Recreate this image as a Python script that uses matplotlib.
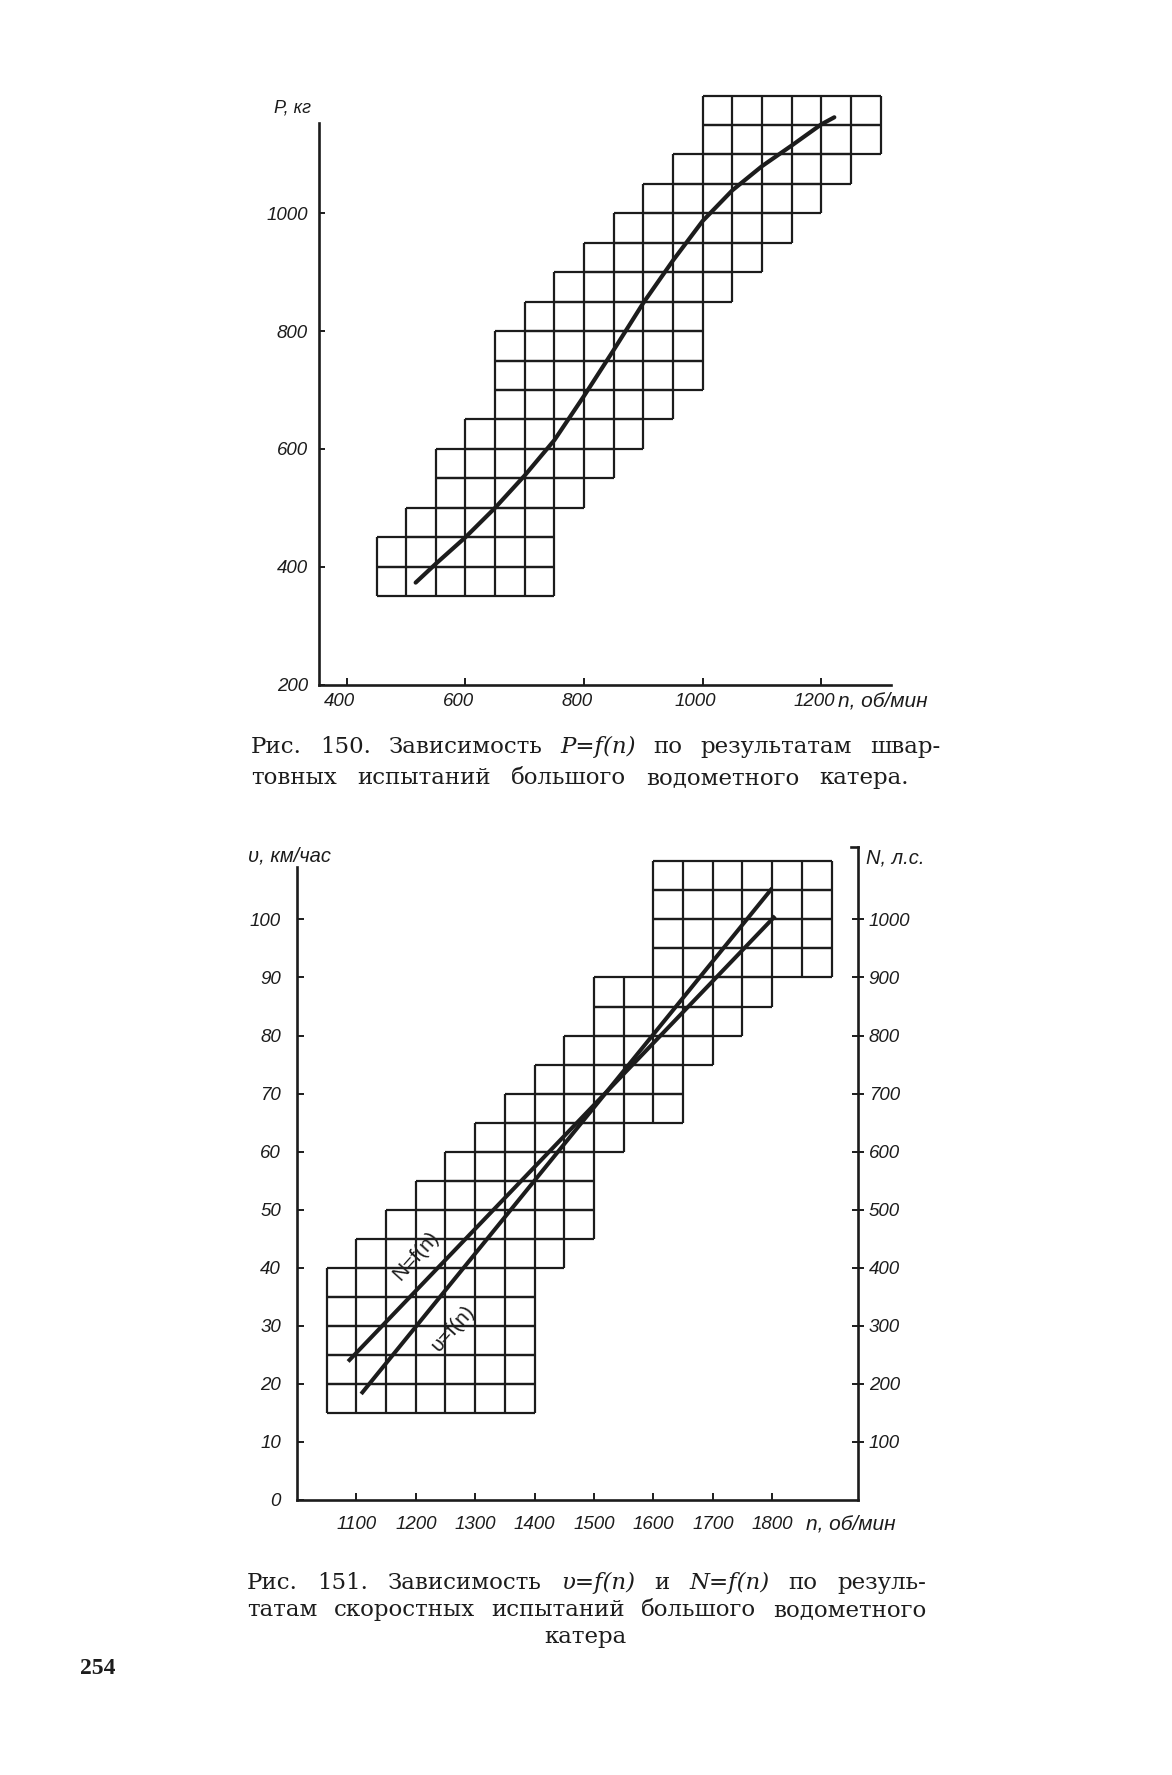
import numpy as np
import matplotlib
matplotlib.use("Agg")
import matplotlib.pyplot as plt
from matplotlib.transforms import ScaledTranslation

W, H = 1172, 1775

# --- Fig. 150: bollard pull P vs rpm n ---
p_rows = [350, 400, 450, 500, 550, 600, 650, 700, 750, 800, 850, 900, 950, 1000, 1050, 1100, 1150]
p_left = [450, 450, 500, 550, 550, 600, 650, 650, 650, 700, 750, 800, 850, 900, 950, 1000, 1000]
p_right = [750, 750, 750, 800, 850, 900, 950, 1000, 1000, 1000, 1050, 1100, 1150, 1200, 1250, 1300, 1300]
n_p = [516, 550, 600, 650, 700, 750, 800, 850, 900, 950, 1000, 1050, 1100, 1150, 1200, 1222]
P = [373, 405, 450, 500, 555, 615, 690, 768, 848, 920, 987, 1039, 1080, 1115, 1151, 1163]
p_xticks = [400, 600, 800, 1000, 1200]
p_yticks = [200, 400, 600, 800, 1000]

# --- Fig. 151: speed v and power N vs rpm n ---
v_rows = [15, 20, 25, 30, 35, 40, 45, 50, 55, 60, 65, 70, 75, 80, 85, 90, 95, 100, 105]
v_left = [1050, 1050, 1050, 1050, 1050, 1100, 1150, 1200, 1250, 1300, 1350, 1400, 1450, 1500, 1500, 1600, 1600, 1600, 1600]
v_right = [1400, 1400, 1400, 1400, 1400, 1450, 1500, 1500, 1500, 1550, 1650, 1650, 1700, 1750, 1800, 1900, 1900, 1900, 1900]
n_v = [1108, 1800]
v = [18.2, 105.4]
n_N = [1086, 1805]
N = [238, 1006]
v_xticks = [1100, 1200, 1300, 1400, 1500, 1600, 1700, 1800]
v_yticks = [0, 10, 20, 30, 40, 50, 60, 70, 80, 90, 100]
N_yticks = [100, 200, 300, 400, 500, 600, 700, 800, 900, 1000]

INK = "#1c1c1c"
SANS = ["Liberation Sans", "DejaVu Sans"]
SERIF = ["DejaVu Serif", "Liberation Serif"]
TICKFONT = dict(family=SANS, style="italic", size=13.5)
CAP = 16.5


def add_axes_px(fig, x0, x1, ytop, ybot):
    return fig.add_axes([x0 / W, 1 - ybot / H, (x1 - x0) / W, (ybot - ytop) / H])


def ftext(fig, x, y, s, **kw):
    return fig.text(x / W, 1 - y / H, s, **kw)


def draw_grid(ax, rows, left, right, dy, dx):
    for y0, xl, xr in zip(rows, left, right):
        ax.hlines([y0, y0 + dy], xl, xr, color=INK, lw=1.6)
        ax.vlines(np.arange(xl, xr + 1, dx), y0, y0 + dy, color=INK, lw=1.6)


def justify(fig, words, x0, x1, yb, italic=(), size=CAP):
    texts = []
    for i, w in enumerate(words):
        t = ftext(fig, 0, yb, w, family=SERIF, size=size, color=INK,
                  style="italic" if i in italic else "normal", va="baseline")
        texts.append(t)
    r = fig.canvas.get_renderer()
    widths = [t.get_window_extent(r).width for t in texts]
    gap = (x1 - x0 - sum(widths)) / max(len(words) - 1, 1)
    x = x0
    for t, w in zip(texts, widths):
        t.set_x(x / W)
        x += w + gap


fig = plt.figure(figsize=(W / 100, H / 100), dpi=100)
fig.patch.set_facecolor("white")

# ---------------- top chart ----------------
ax1 = add_axes_px(fig, 319, 319 + 972 * 0.593, 684.5 - 1010 * 0.589, 684.5)
ax1.set_xlim(353, 1325)
ax1.set_ylim(200, 1210)
draw_grid(ax1, p_rows, p_left, p_right, 50, 50)
ax1.plot(n_p, P, color=INK, lw=3.0, solid_capstyle="round", solid_joinstyle="round")
for s in ["top", "right"]:
    ax1.spines[s].set_visible(False)
ax1.spines["left"].set_bounds(200, 1153)
ax1.spines["bottom"].set_bounds(353, 1318)
for s in ["left", "bottom"]:
    ax1.spines[s].set_linewidth(1.9)
    ax1.spines[s].set_color(INK)
ax1.set_xticks(p_xticks)
ax1.set_yticks(p_yticks)
ax1.tick_params(axis="x", direction="in", length=5, width=1.4, pad=6, colors=INK)
ax1.tick_params(axis="y", direction="in", length=4, width=1.4, pad=8, colors=INK)
shift = ScaledTranslation(-7 / 100, 0, fig.dpi_scale_trans)
for lab in ax1.get_xticklabels():
    lab.set(**TICKFONT)
    lab.set_transform(lab.get_transform() + shift)
for lab in ax1.get_yticklabels():
    lab.set(**TICKFONT)
ftext(fig, 293, 108, "P, кг", family=SANS, style="italic", size=13, ha="center", va="center", color=INK)
ftext(fig, 838, 701, "n, об/мин", family=SANS, style="italic", size=15, ha="left", va="center", color=INK)

justify(fig, ["Рис.", "150.", "Зависимость", "P=f(n)", "по", "результатам", "швар-"],
        251, 940, 753, italic=(3,))
justify(fig, ["товных", "испытаний", "большого", "водометного", "катера."],
        251, 909, 784)

# ---------------- bottom chart ----------------
ax2 = add_axes_px(fig, 297, 858.3, 1499.5 - 113 * 5.8, 1499.5)
ax2.set_xlim(1000, 1945)
ax2.set_ylim(0, 113)
draw_grid(ax2, v_rows, v_left, v_right, 5, 50)
ax2.plot(n_v, v, color=INK, lw=2.9, solid_capstyle="butt")
ax2.spines["top"].set_visible(False)
ax2.spines["right"].set_visible(False)
ax2.spines["left"].set_bounds(0, 109)
for s in ["left", "bottom"]:
    ax2.spines[s].set_linewidth(1.9)
    ax2.spines[s].set_color(INK)
ax2.set_xticks(v_xticks)
ax2.set_yticks(v_yticks)
ax2.tick_params(axis="x", direction="in", length=5, width=1.4, pad=12, colors=INK)
ax2.tick_params(axis="y", direction="in", length=5, width=1.4, pad=11.5, colors=INK)
for lab in ax2.get_xticklabels() + ax2.get_yticklabels():
    lab.set(**TICKFONT)

ax3 = ax2.twinx()
ax3.set_ylim(0, 1130)
ax3.plot(n_N, N, color=INK, lw=2.9, solid_capstyle="butt")
for s in ["top", "left", "bottom"]:
    ax3.spines[s].set_visible(False)
ax3.spines["right"].set_bounds(0, 1125)
ax3.spines["right"].set_linewidth(1.9)
ax3.spines["right"].set_color(INK)
ax3.plot([1933, 1945], [1125, 1125], color=INK, lw=1.9, clip_on=False)
ax3.set_yticks(N_yticks)
ax3.tick_params(axis="y", direction="inout", length=9, width=1.4, pad=3, colors=INK)
for lab in ax3.get_yticklabels():
    lab.set(**TICKFONT)

ax2.text(1200, 42.0, "N=f(n)", family=SANS, size=15, rotation=48,
         rotation_mode="anchor", ha="center", va="center", color=INK)
ax2.text(1262, 29.5, "υ=f(n)", family=SANS, size=15, rotation=48,
         rotation_mode="anchor", ha="center", va="center", color=INK)

ftext(fig, 248, 856, "υ, км/час", family=SANS, style="italic", size=14.5, ha="left", va="center", color=INK)
ftext(fig, 866, 858, "N, л.с.", family=SANS, style="italic", size=14.5, ha="left", va="center", color=INK)
ftext(fig, 806, 1524, "n, об/мин", family=SANS, style="italic", size=15, ha="left", va="center", color=INK)

justify(fig, ["Рис.", "151.", "Зависимость", "υ=f(n)", "и", "N=f(n)", "по", "резуль-"],
        247, 926, 1589, italic=(3, 5))
justify(fig, ["татам", "скоростных", "испытаний", "большого", "водометного"],
        247, 926, 1616)
ftext(fig, 585, 1643, "катера", family=SERIF, size=CAP, ha="center", va="baseline", color=INK)

ftext(fig, 98, 1669, "254", family=["Liberation Serif", "DejaVu Serif"], weight="bold",
      size=17, ha="center", va="center", color=INK)

fig.savefig("out.png", dpi=100, facecolor="white")
